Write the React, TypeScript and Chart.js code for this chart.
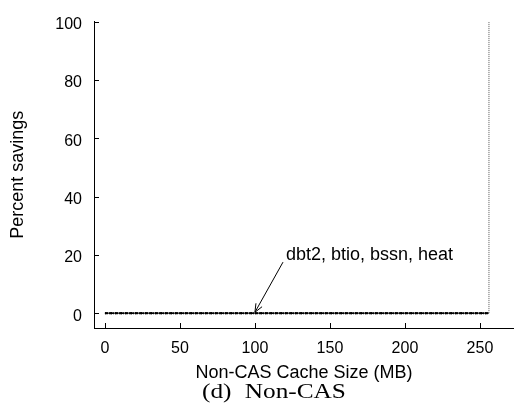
import React, { useEffect, useRef } from "react";
import { Chart, registerables } from "chart.js";

Chart.register(...registerables);

// ---- data ----
const cacheSizesMB = [0, 1, 2, 4, 8, 16, 32, 64, 96, 128, 160, 192, 224, 256];
const dbt2Savings = [0, 0, 0, 0, 0, 0, 0, 0, 0, 0, 0, 0, 0, 0];
const btioSavings = [0, 0, 0, 0, 0, 0, 0, 0, 0, 0, 0, 0, 0, 0];
const bssnSavings = [0, 0, 0, 0, 0, 0, 0, 0, 0, 0, 0, 0, 0, 0];
const heatSavings = [0, 0, 0, 0, 0, 0, 0, 0, 0, 0, 0, 0, 0, 0];
const limitX = [256, 256];
const limitY = [0, 100];

const xTicks = [0, 50, 100, 150, 200, 250];
const yTicks = [0, 20, 40, 60, 80, 100];

const xTitle = "Non-CAS Cache Size (MB)";
const yTitle = "Percent savings";
const caption = "(d) Non-CAS";

const annotationText = "dbt2, btio, bssn, heat";
const arrowTipX = 100;
const arrowTipY = 0.3;
const arrowTailX = 118.7;
const arrowTailY = 17.5;
const labelX = 120.7;
const labelY = 18.2;

const SANS = "'Liberation Sans', Arial, sans-serif";
const SERIF = "'Liberation Serif', 'Times New Roman', serif";

const pts = (xs: number[], ys: number[]) => xs.map((x, i) => ({ x, y: ys[i] }));

const decorPlugin = {
  id: "decor",
  afterDraw(chart: any) {
    const { ctx, chartArea, scales } = chart;
    const x = scales.x;
    const y = scales.y;
    ctx.save();
    ctx.strokeStyle = "#000";
    ctx.lineWidth = 1;
    ctx.beginPath();
    x.ticks.forEach((t: any) => {
      const px = Math.round(x.getPixelForValue(t.value)) + 0.5;
      ctx.moveTo(px, chartArea.bottom);
      ctx.lineTo(px, chartArea.bottom - 5);
    });
    y.ticks.forEach((t: any) => {
      const py = Math.round(y.getPixelForValue(t.value)) + 0.5;
      ctx.moveTo(chartArea.left, py);
      ctx.lineTo(chartArea.left + 5, py);
    });
    ctx.stroke();

    // annotation arrow
    const tx = x.getPixelForValue(arrowTipX);
    const ty = y.getPixelForValue(arrowTipY);
    const sx = x.getPixelForValue(arrowTailX);
    const sy = y.getPixelForValue(arrowTailY);
    ctx.beginPath();
    ctx.moveTo(sx, sy);
    ctx.lineTo(tx, ty);
    const ang = Math.atan2(ty - sy, tx - sx);
    const hl = 9;
    const ha = 0.4;
    ctx.moveTo(tx - hl * Math.cos(ang - ha), ty - hl * Math.sin(ang - ha));
    ctx.lineTo(tx, ty);
    ctx.lineTo(tx - hl * Math.cos(ang + ha), ty - hl * Math.sin(ang + ha));
    ctx.stroke();

    ctx.fillStyle = "#000";
    ctx.font = `18px ${SANS}`;
    ctx.textAlign = "left";
    ctx.textBaseline = "alphabetic";
    ctx.fillText(annotationText, x.getPixelForValue(labelX), y.getPixelForValue(labelY));
    ctx.restore();
  },
};

export default function App() {
  const ref = useRef<HTMLCanvasElement | null>(null);

  useEffect(() => {
    document.body.style.margin = "0";
    const canvas = ref.current!;
    const seriesStyle = (label: string, data: number[], dash: number[], width: number) => ({
      label,
      data: pts(cacheSizesMB, data),
      borderColor: "#000",
      borderWidth: width,
      borderDash: dash,
      pointRadius: 0,
      fill: false,
      tension: 0,
    });
    const chart = new Chart(canvas, {
      type: "line",
      data: {
        datasets: [
          seriesStyle("dbt2", dbt2Savings, [], 1),
          seriesStyle("btio", btioSavings, [3, 2], 1.5),
          seriesStyle("bssn", bssnSavings, [1, 1], 2),
          seriesStyle("heat", heatSavings, [2, 3], 2),
          {
            label: "limit",
            data: pts(limitX, limitY),
            borderColor: "#555",
            borderWidth: 1,
            borderDash: [1, 1],
            pointRadius: 0,
            fill: false,
          },
        ] as any,
      },
      options: {
        animation: false,
        responsive: false,
        maintainAspectRatio: false,
        layout: { padding: { top: 21, left: 0, right: 0, bottom: 0 } },
        plugins: {
          legend: { display: false },
          tooltip: { enabled: false },
          title: { display: false },
        },
        scales: {
          x: {
            type: "linear",
            min: -7.3,
            max: 272.7,
            afterBuildTicks: (s: any) => {
              s.ticks = xTicks.map((v) => ({ value: v }));
            },
            afterFit: (s: any) => {
              s.height = 82;
            },
            grid: { display: false, drawTicks: false },
            border: { display: true, color: "#000", width: 1 },
            ticks: {
              color: "#000",
              font: { family: SANS, size: 16 },
              padding: 11,
              maxRotation: 0,
              autoSkip: false,
            },
            title: {
              display: true,
              text: xTitle,
              color: "#000",
              font: { family: SANS, size: 18 },
              padding: { top: 0, bottom: 26 },
            },
          },
          y: {
            type: "linear",
            min: -5.1,
            max: 100,
            afterBuildTicks: (s: any) => {
              s.ticks = yTicks.map((v) => ({ value: v }));
            },
            afterFit: (s: any) => {
              s.width = 94;
            },
            grid: { display: false, drawTicks: false },
            border: { display: true, color: "#000", width: 1 },
            ticks: {
              color: "#000",
              font: { family: SANS, size: 16 },
              padding: 12,
              labelOffset: 3,
              autoSkip: false,
            },
            title: {
              display: true,
              text: yTitle,
              color: "#000",
              font: { family: SANS, size: 18 },
              padding: { top: 7, bottom: 0 },
            },
          },
        },
      } as any,
      plugins: [decorPlugin],
    });
    return () => chart.destroy();
  }, []);

  return (
    <div style={{ position: "relative", width: 514, height: 410, background: "#fff" }}>
      <canvas ref={ref} width={514} height={410} style={{ display: "block" }} />
      <div
        style={{
          position: "absolute",
          left: 202,
          top: 380,
          fontFamily: SERIF,
          fontSize: 22,
          lineHeight: 1,
          whiteSpace: "nowrap",
          wordSpacing: 6,
          transform: "scaleX(1.15)",
          transformOrigin: "left top",
          color: "#000",
        }}
      >
        {caption}
      </div>
    </div>
  );
}
